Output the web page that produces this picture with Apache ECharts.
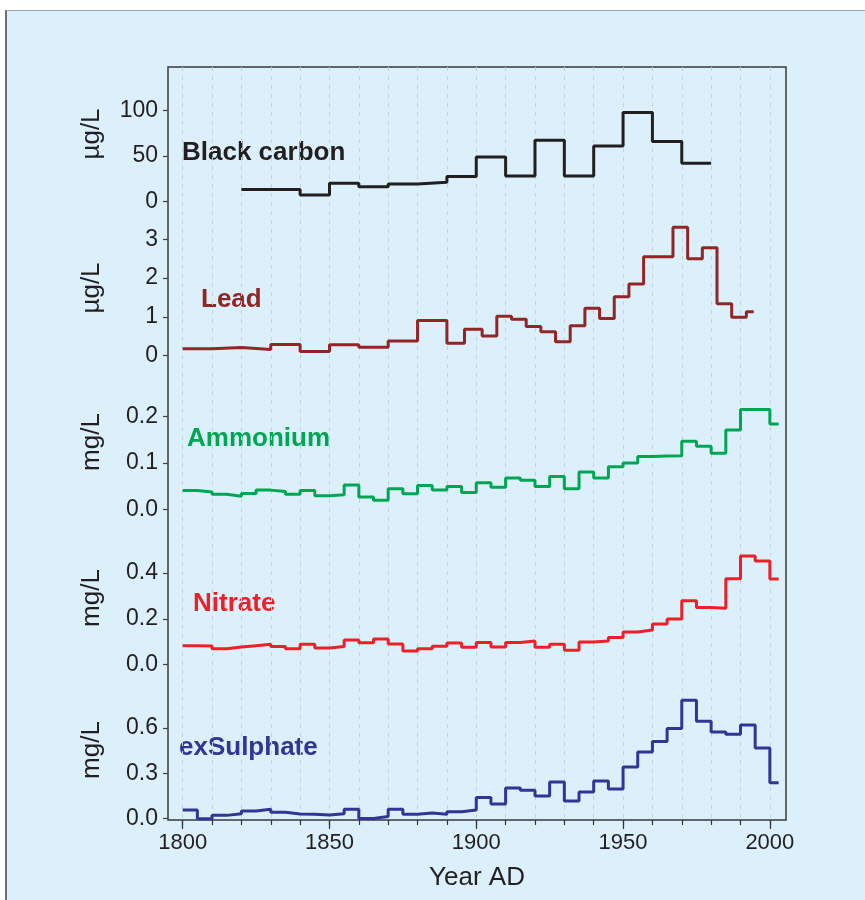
<!DOCTYPE html>
<html>
<head>
<meta charset="utf-8">
<script src="https://cdn.jsdelivr.net/npm/echarts@6.0.0/dist/echarts.min.js"></script>
<style>
body {margin: 0; background: #fff;}
#panel {position: absolute; left: 5px; top: 10px; right: 0; bottom: 0; background: #dbf0fb;
    border-top: 1.5px solid #a3a3a3; border-left: 2px solid #6e6e6e;}
#main {position: absolute; left: 0; top: 0; width: 865px; height: 900px;}
</style>
</head>
<body>
<div id="panel"></div>
<div id="main"></div>
<script>
// black carbon, ug/L (last value repeated to close the final step)
var bcYears = [1820, 1840, 1850, 1860, 1870, 1880, 1890, 1900, 1910, 1920, 1930, 1940, 1950, 1960, 1970, 1980];
var bcVals = [13, 7, 20, 16, 19, 21, 27.5, 49, 28, 67.5, 28, 61, 98, 66, 42, 42];

// lead, ug/L
var leadYears = [1800, 1810, 1820, 1830, 1840, 1850, 1860, 1870, 1880, 1890,
    1896, 1902, 1907, 1912, 1917, 1922, 1927, 1932, 1937, 1942,
    1947, 1952, 1957, 1967, 1972, 1977, 1982, 1987, 1992, 1994.5];
var leadVals = [0.18, 0.21, 0.16, 0.29, 0.11, 0.28, 0.22, 0.38, 0.91, 0.32,
    0.68, 0.51, 1.02, 0.94, 0.75, 0.62, 0.36, 0.77, 1.22, 0.96,
    1.52, 1.85, 2.55, 3.31, 2.50, 2.78, 1.34, 0.99, 1.13, 1.13];

// ammonium, nitrate, exSulphate share 5-year bins (mg/L)
var binYears = [1800, 1805, 1810, 1815, 1820, 1825, 1830, 1835, 1840, 1845,
    1850, 1855, 1860, 1865, 1870, 1875, 1880, 1885, 1890, 1895,
    1900, 1905, 1910, 1915, 1920, 1925, 1930, 1935, 1940, 1945,
    1950, 1955, 1960, 1965, 1970, 1975, 1980, 1985, 1990, 1995, 2000, 2003];
var nh4Vals = [0.041, 0.038, 0.033, 0.029, 0.035, 0.042, 0.039, 0.033, 0.041, 0.030,
    0.032, 0.053, 0.027, 0.020, 0.045, 0.034, 0.052, 0.042, 0.050, 0.037,
    0.058, 0.048, 0.068, 0.063, 0.050, 0.071, 0.045, 0.081, 0.068, 0.092,
    0.100, 0.114, 0.115, 0.116, 0.147, 0.136, 0.121, 0.171, 0.215, 0.215, 0.184, 0.184];
var no3Vals = [0.083, 0.082, 0.070, 0.077, 0.083, 0.089, 0.079, 0.070, 0.089, 0.073,
    0.079, 0.108, 0.096, 0.112, 0.090, 0.060, 0.070, 0.080, 0.095, 0.076,
    0.097, 0.077, 0.097, 0.103, 0.076, 0.089, 0.063, 0.099, 0.103, 0.119,
    0.143, 0.151, 0.177, 0.199, 0.279, 0.249, 0.246, 0.375, 0.474, 0.452, 0.374, 0.374];
var so4Vals = [0.057, 0.000, 0.022, 0.033, 0.051, 0.062, 0.042, 0.031, 0.029, 0.024,
    0.033, 0.062, 0.002, 0.015, 0.062, 0.029, 0.038, 0.029, 0.046, 0.057,
    0.141, 0.097, 0.203, 0.188, 0.150, 0.243, 0.117, 0.176, 0.249, 0.196,
    0.342, 0.441, 0.510, 0.596, 0.783, 0.644, 0.574, 0.558, 0.620, 0.468, 0.238, 0.238];

// axis ticks
var yearLabels = [1800, 1850, 1900, 1950, 2000];
var yearMinor = [1800, 1810, 1820, 1830, 1840, 1850, 1860, 1870, 1880, 1890, 1900,
    1910, 1920, 1930, 1940, 1950, 1960, 1970, 1980, 1990, 2000];
var bcTicks = [0, 50, 100];
var leadTicks = [0, 1, 2, 3];
var nh4Ticks = [0, 0.1, 0.2];
var no3Ticks = [0, 0.2, 0.4];
var so4Ticks = [0, 0.3, 0.6];

~function () {
    var myChart = echarts.init(document.getElementById('main'));
    var FONT = '"Liberation Sans", Arial, Helvetica, sans-serif';
    var INK = '#231f20';
    var XMIN = 1795, XMAX = 2005.5;

    var panels = [
        {top: 67, height: 155, min: -22.8, max: 148.2, ticks: bcTicks, dec: 0},
        {top: 222, height: 158, min: -0.626, max: 3.446, ticks: leadTicks, dec: 0},
        {top: 380, height: 155, min: -0.0543, max: 0.2783, ticks: nh4Ticks, dec: 1},
        {top: 535, height: 150, min: -0.0886, max: 0.5658, ticks: no3Ticks, dec: 1},
        {top: 685, height: 135, min: -0.0086, max: 0.8843, ticks: so4Ticks, dec: 1}
    ];
    var lines = [
        {name: 'Black carbon', x: bcYears, y: bcVals, color: '#231f20'},
        {name: 'Lead', x: leadYears, y: leadVals, color: '#912624'},
        {name: 'Ammonium', x: binYears, y: nh4Vals, color: '#00a651'},
        {name: 'Nitrate', x: binYears, y: no3Vals, color: '#ed2027'},
        {name: 'exSulphate', x: binYears, y: so4Vals, color: '#2f3694'}
    ];
    // where the in-plot names and unit labels sit
    var tags = [
        {x: 182, y: 153, unit: 'µg/L', uy: 134},
        {x: 201, y: 300, unit: 'µg/L', uy: 288},
        {x: 187, y: 439, unit: 'mg/L', uy: 442},
        {x: 193, y: 604, unit: 'mg/L', uy: 598},
        {x: 179, y: 748, unit: 'mg/L', uy: 750}
    ];

    var grid = [], xAxis = [], yAxis = [], series = [], graphic = [];
    panels.forEach(function (p, i) {
        grid.push({left: 168, width: 618, top: p.top, height: p.height});
        xAxis.push({type: 'value', gridIndex: i, min: XMIN, max: XMAX, show: false});
        yAxis.push({
            type: 'value', gridIndex: i, min: p.min, max: p.max,
            axisLine: {show: false},
            splitLine: {show: false},
            axisTick: {show: true, length: 5, customValues: p.ticks, lineStyle: {color: '#444', width: 1.2}},
            axisLabel: {
                customValues: p.ticks, margin: 10, color: INK, fontSize: 23, fontFamily: FONT,
                formatter: (function (d) { return function (v) { return v.toFixed(d); }; })(p.dec)
            }
        });
        var l = lines[i];
        series.push({
            name: l.name, type: 'line', xAxisIndex: i, yAxisIndex: i,
            step: 'end', symbol: 'none',
            lineStyle: {color: l.color, width: 3},
            data: l.x.map(function (yr, k) { return [yr, l.y[k]]; })
        });
        var t = tags[i];
        graphic.push({
            type: 'text', x: t.x, y: t.y,
            style: {text: l.name, fill: l.color, fontSize: 26, fontWeight: 'bold', fontFamily: FONT, verticalAlign: 'middle'}
        });
        graphic.push({
            type: 'text', x: 92, y: t.uy, rotation: Math.PI / 2,
            style: {text: t.unit, fill: INK, fontSize: 26, fontFamily: FONT, align: 'center', verticalAlign: 'middle'}
        });
    });

    // outer frame, dashed decade lines and the year axis
    grid.push({left: 168, width: 618, top: 67, height: 753, show: true, borderColor: '#3a3a3a', borderWidth: 1.5,
        backgroundColor: 'transparent'});
    xAxis.push({
        type: 'value', gridIndex: 5, min: XMIN, max: XMAX, position: 'bottom',
        axisLine: {show: false},
        axisTick: {show: true, length: 5, customValues: yearMinor, lineStyle: {color: '#333', width: 1.2}},
        splitLine: {show: true, lineStyle: {color: '#c2d3de', type: [4, 5], width: 1}},
        axisLabel: {
            customValues: yearLabels, margin: 12, color: INK, fontSize: 22, fontFamily: FONT,
            formatter: function (v) { return String(v); }
        },
        name: 'Year AD', nameLocation: 'middle', nameGap: 45,
        nameTextStyle: {color: INK, fontSize: 26, fontFamily: FONT}
    });
    xAxis.push({
        type: 'value', gridIndex: 5, min: XMIN, max: XMAX, position: 'bottom', offset: 0,
        axisLine: {show: false},
        axisTick: {show: true, length: 9, customValues: yearLabels, lineStyle: {color: '#333', width: 1.2}},
        axisLabel: {show: false},
        splitLine: {show: false}
    });
    yAxis.push({type: 'value', gridIndex: 5, min: 0, max: 1, show: false});

    var option = {
        backgroundColor: 'transparent',
        animation: false,
        grid: grid,
        xAxis: xAxis,
        yAxis: yAxis,
        series: series,
        graphic: graphic
    };
    myChart.setOption(option);
}();
</script>
</body>
</html>
